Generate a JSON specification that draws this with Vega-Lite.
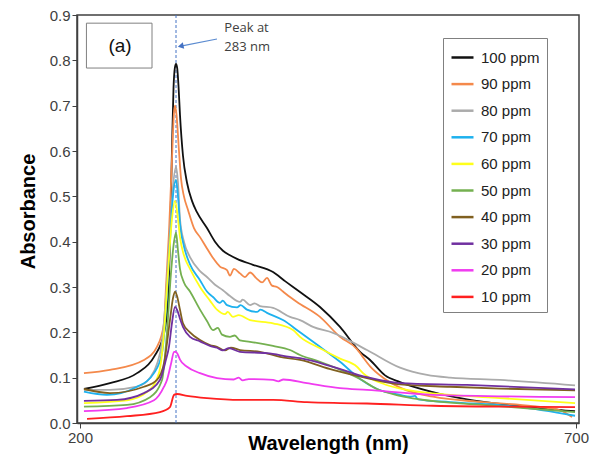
{
  "$schema": "https://vega.github.io/schema/vega-lite/v6.json",
  "width": 502,
  "height": 408,
  "autosize": "none",
  "padding": {"left": 77, "top": 15, "right": 11, "bottom": 39},
  "background": "white",
  "config": {
    "font": "Liberation Sans",
    "view": {"stroke": "#404040", "strokeWidth": 1.5},
    "axis": {"grid": false, "domainColor": "#404040", "domainWidth": 1.5, "tickColor": "#404040", "tickSize": 5, "labelColor": "#404040", "labelFontSize": 15, "titleFontSize": 20, "titleFontWeight": "bold", "titleColor": "#000000"}
  },
  "datasets": {
    "spectra": [
      {"series": "100 ppm", "wavelength": 204.0, "absorbance": 0.075},
      {"series": "100 ppm", "wavelength": 230.2, "absorbance": 0.088},
      {"series": "100 ppm", "wavelength": 257.5, "absorbance": 0.110},
      {"series": "100 ppm", "wavelength": 274.6, "absorbance": 0.146},
      {"series": "100 ppm", "wavelength": 284.7, "absorbance": 0.198},
      {"series": "100 ppm", "wavelength": 288.7, "absorbance": 0.27},
      {"series": "100 ppm", "wavelength": 290.7, "absorbance": 0.40},
      {"series": "100 ppm", "wavelength": 292.7, "absorbance": 0.60},
      {"series": "100 ppm", "wavelength": 294.3, "absorbance": 0.74},
      {"series": "100 ppm", "wavelength": 295.6, "absorbance": 0.783},
      {"series": "100 ppm", "wavelength": 296.8, "absorbance": 0.792},
      {"series": "100 ppm", "wavelength": 298.0, "absorbance": 0.783},
      {"series": "100 ppm", "wavelength": 299.4, "absorbance": 0.74},
      {"series": "100 ppm", "wavelength": 300.8, "absorbance": 0.68},
      {"series": "100 ppm", "wavelength": 303.8, "absorbance": 0.59},
      {"series": "100 ppm", "wavelength": 307.9, "absorbance": 0.53},
      {"series": "100 ppm", "wavelength": 312.9, "absorbance": 0.49},
      {"series": "100 ppm", "wavelength": 317.9, "absorbance": 0.465},
      {"series": "100 ppm", "wavelength": 328.0, "absorbance": 0.43},
      {"series": "100 ppm", "wavelength": 336.1, "absorbance": 0.40},
      {"series": "100 ppm", "wavelength": 344.1, "absorbance": 0.38},
      {"series": "100 ppm", "wavelength": 351.2, "absorbance": 0.37},
      {"series": "100 ppm", "wavelength": 358.3, "absorbance": 0.362},
      {"series": "100 ppm", "wavelength": 374.4, "absorbance": 0.349},
      {"series": "100 ppm", "wavelength": 394.6, "absorbance": 0.333},
      {"series": "100 ppm", "wavelength": 406.7, "absorbance": 0.313},
      {"series": "100 ppm", "wavelength": 421.8, "absorbance": 0.289},
      {"series": "100 ppm", "wavelength": 441.9, "absorbance": 0.256},
      {"series": "100 ppm", "wavelength": 462.1, "absorbance": 0.212},
      {"series": "100 ppm", "wavelength": 482.3, "absorbance": 0.157},
      {"series": "100 ppm", "wavelength": 492.4, "absorbance": 0.139},
      {"series": "100 ppm", "wavelength": 507.5, "absorbance": 0.105},
      {"series": "100 ppm", "wavelength": 522.6, "absorbance": 0.09},
      {"series": "100 ppm", "wavelength": 555.8, "absorbance": 0.068},
      {"series": "100 ppm", "wavelength": 590.1, "absorbance": 0.052},
      {"series": "100 ppm", "wavelength": 640.5, "absorbance": 0.038},
      {"series": "100 ppm", "wavelength": 699.0, "absorbance": 0.026},

      {"series": "90 ppm", "wavelength": 204.0, "absorbance": 0.110},
      {"series": "90 ppm", "wavelength": 230.2, "absorbance": 0.117},
      {"series": "90 ppm", "wavelength": 264.5, "absorbance": 0.139},
      {"series": "90 ppm", "wavelength": 277.6, "absorbance": 0.168},
      {"series": "90 ppm", "wavelength": 284.7, "absorbance": 0.22},
      {"series": "90 ppm", "wavelength": 286.7, "absorbance": 0.30},
      {"series": "90 ppm", "wavelength": 289.7, "absorbance": 0.42},
      {"series": "90 ppm", "wavelength": 292.7, "absorbance": 0.58},
      {"series": "90 ppm", "wavelength": 294.6, "absorbance": 0.68},
      {"series": "90 ppm", "wavelength": 295.8, "absorbance": 0.70},
      {"series": "90 ppm", "wavelength": 297.3, "absorbance": 0.68},
      {"series": "90 ppm", "wavelength": 299.8, "absorbance": 0.60},
      {"series": "90 ppm", "wavelength": 301.8, "absorbance": 0.54},
      {"series": "90 ppm", "wavelength": 304.8, "absorbance": 0.50},
      {"series": "90 ppm", "wavelength": 308.9, "absorbance": 0.47},
      {"series": "90 ppm", "wavelength": 314.9, "absorbance": 0.43},
      {"series": "90 ppm", "wavelength": 321.0, "absorbance": 0.41},
      {"series": "90 ppm", "wavelength": 328.0, "absorbance": 0.385},
      {"series": "90 ppm", "wavelength": 334.1, "absorbance": 0.364},
      {"series": "90 ppm", "wavelength": 341.1, "absorbance": 0.345},
      {"series": "90 ppm", "wavelength": 348.2, "absorbance": 0.337},
      {"series": "90 ppm", "wavelength": 351.2, "absorbance": 0.325},
      {"series": "90 ppm", "wavelength": 355.2, "absorbance": 0.34},
      {"series": "90 ppm", "wavelength": 361.3, "absorbance": 0.33},
      {"series": "90 ppm", "wavelength": 366.3, "absorbance": 0.322},
      {"series": "90 ppm", "wavelength": 371.4, "absorbance": 0.332},
      {"series": "90 ppm", "wavelength": 378.4, "absorbance": 0.318},
      {"series": "90 ppm", "wavelength": 383.5, "absorbance": 0.31},
      {"series": "90 ppm", "wavelength": 388.5, "absorbance": 0.32},
      {"series": "90 ppm", "wavelength": 393.5, "absorbance": 0.303},
      {"series": "90 ppm", "wavelength": 398.6, "absorbance": 0.30},
      {"series": "90 ppm", "wavelength": 404.6, "absorbance": 0.29},
      {"series": "90 ppm", "wavelength": 411.7, "absorbance": 0.278},
      {"series": "90 ppm", "wavelength": 418.7, "absorbance": 0.267},
      {"series": "90 ppm", "wavelength": 441.9, "absorbance": 0.234},
      {"series": "90 ppm", "wavelength": 462.1, "absorbance": 0.19},
      {"series": "90 ppm", "wavelength": 479.2, "absorbance": 0.163},
      {"series": "90 ppm", "wavelength": 484.3, "absorbance": 0.148},
      {"series": "90 ppm", "wavelength": 492.4, "absorbance": 0.125},
      {"series": "90 ppm", "wavelength": 505.5, "absorbance": 0.1},
      {"series": "90 ppm", "wavelength": 522.6, "absorbance": 0.078},
      {"series": "90 ppm", "wavelength": 555.8, "absorbance": 0.058},
      {"series": "90 ppm", "wavelength": 606.3, "absorbance": 0.046},
      {"series": "90 ppm", "wavelength": 656.6, "absorbance": 0.037},
      {"series": "90 ppm", "wavelength": 683.9, "absorbance": 0.028},
      {"series": "90 ppm", "wavelength": 696.0, "absorbance": 0.013},

      {"series": "80 ppm", "wavelength": 204.0, "absorbance": 0.073},
      {"series": "80 ppm", "wavelength": 230.2, "absorbance": 0.073},
      {"series": "80 ppm", "wavelength": 257.5, "absorbance": 0.08},
      {"series": "80 ppm", "wavelength": 270.6, "absorbance": 0.10},
      {"series": "80 ppm", "wavelength": 277.6, "absorbance": 0.13},
      {"series": "80 ppm", "wavelength": 282.7, "absorbance": 0.18},
      {"series": "80 ppm", "wavelength": 286.7, "absorbance": 0.28},
      {"series": "80 ppm", "wavelength": 290.7, "absorbance": 0.42},
      {"series": "80 ppm", "wavelength": 293.7, "absorbance": 0.52},
      {"series": "80 ppm", "wavelength": 296.8, "absorbance": 0.565},
      {"series": "80 ppm", "wavelength": 298.8, "absorbance": 0.53},
      {"series": "80 ppm", "wavelength": 300.8, "absorbance": 0.45},
      {"series": "80 ppm", "wavelength": 304.8, "absorbance": 0.40},
      {"series": "80 ppm", "wavelength": 310.9, "absorbance": 0.366},
      {"series": "80 ppm", "wavelength": 321.0, "absorbance": 0.335},
      {"series": "80 ppm", "wavelength": 328.0, "absorbance": 0.322},
      {"series": "80 ppm", "wavelength": 336.1, "absorbance": 0.305},
      {"series": "80 ppm", "wavelength": 344.1, "absorbance": 0.293},
      {"series": "80 ppm", "wavelength": 351.2, "absorbance": 0.28},
      {"series": "80 ppm", "wavelength": 361.3, "absorbance": 0.267},
      {"series": "80 ppm", "wavelength": 364.0, "absorbance": 0.272},
      {"series": "80 ppm", "wavelength": 371.4, "absorbance": 0.26},
      {"series": "80 ppm", "wavelength": 376.0, "absorbance": 0.264},
      {"series": "80 ppm", "wavelength": 381.5, "absorbance": 0.258},
      {"series": "80 ppm", "wavelength": 394.6, "absorbance": 0.254},
      {"series": "80 ppm", "wavelength": 411.7, "absorbance": 0.234},
      {"series": "80 ppm", "wavelength": 421.8, "absorbance": 0.227},
      {"series": "80 ppm", "wavelength": 434.9, "absorbance": 0.212},
      {"series": "80 ppm", "wavelength": 455.0, "absorbance": 0.199},
      {"series": "80 ppm", "wavelength": 489.3, "absorbance": 0.161},
      {"series": "80 ppm", "wavelength": 522.6, "absorbance": 0.122},
      {"series": "80 ppm", "wavelength": 549.8, "absorbance": 0.106},
      {"series": "80 ppm", "wavelength": 573.0, "absorbance": 0.1},
      {"series": "80 ppm", "wavelength": 623.4, "absorbance": 0.095},
      {"series": "80 ppm", "wavelength": 699.0, "absorbance": 0.083},

      {"series": "70 ppm", "wavelength": 204.0, "absorbance": 0.069},
      {"series": "70 ppm", "wavelength": 227.2, "absorbance": 0.062},
      {"series": "70 ppm", "wavelength": 257.5, "absorbance": 0.08},
      {"series": "70 ppm", "wavelength": 274.6, "absorbance": 0.11},
      {"series": "70 ppm", "wavelength": 282.7, "absorbance": 0.154},
      {"series": "70 ppm", "wavelength": 286.7, "absorbance": 0.25},
      {"series": "70 ppm", "wavelength": 290.7, "absorbance": 0.40},
      {"series": "70 ppm", "wavelength": 293.7, "absorbance": 0.50},
      {"series": "70 ppm", "wavelength": 296.8, "absorbance": 0.536},
      {"series": "70 ppm", "wavelength": 298.8, "absorbance": 0.50},
      {"series": "70 ppm", "wavelength": 300.8, "absorbance": 0.44},
      {"series": "70 ppm", "wavelength": 304.8, "absorbance": 0.39},
      {"series": "70 ppm", "wavelength": 310.9, "absorbance": 0.35},
      {"series": "70 ppm", "wavelength": 321.0, "absorbance": 0.315},
      {"series": "70 ppm", "wavelength": 328.0, "absorbance": 0.29},
      {"series": "70 ppm", "wavelength": 334.1, "absorbance": 0.278},
      {"series": "70 ppm", "wavelength": 341.1, "absorbance": 0.265},
      {"series": "70 ppm", "wavelength": 344.0, "absorbance": 0.27},
      {"series": "70 ppm", "wavelength": 348.2, "absorbance": 0.26},
      {"series": "70 ppm", "wavelength": 358.3, "absorbance": 0.255},
      {"series": "70 ppm", "wavelength": 362.0, "absorbance": 0.26},
      {"series": "70 ppm", "wavelength": 368.3, "absorbance": 0.25},
      {"series": "70 ppm", "wavelength": 378.4, "absorbance": 0.245},
      {"series": "70 ppm", "wavelength": 382.0, "absorbance": 0.25},
      {"series": "70 ppm", "wavelength": 388.5, "absorbance": 0.243},
      {"series": "70 ppm", "wavelength": 404.6, "absorbance": 0.227},
      {"series": "70 ppm", "wavelength": 421.8, "absorbance": 0.2},
      {"series": "70 ppm", "wavelength": 441.9, "absorbance": 0.168},
      {"series": "70 ppm", "wavelength": 462.1, "absorbance": 0.135},
      {"series": "70 ppm", "wavelength": 482.3, "absorbance": 0.097},
      {"series": "70 ppm", "wavelength": 499.4, "absorbance": 0.075},
      {"series": "70 ppm", "wavelength": 522.6, "absorbance": 0.062},
      {"series": "70 ppm", "wavelength": 532.7, "absorbance": 0.058},
      {"series": "70 ppm", "wavelength": 537.7, "absorbance": 0.06},
      {"series": "70 ppm", "wavelength": 540.7, "absorbance": 0.052},
      {"series": "70 ppm", "wavelength": 573.0, "absorbance": 0.046},
      {"series": "70 ppm", "wavelength": 640.5, "absorbance": 0.036},
      {"series": "70 ppm", "wavelength": 699.0, "absorbance": 0.016},

      {"series": "60 ppm", "wavelength": 204.0, "absorbance": 0.044},
      {"series": "60 ppm", "wavelength": 247.4, "absorbance": 0.05},
      {"series": "60 ppm", "wavelength": 267.5, "absorbance": 0.068},
      {"series": "60 ppm", "wavelength": 279.6, "absorbance": 0.11},
      {"series": "60 ppm", "wavelength": 284.7, "absorbance": 0.20},
      {"series": "60 ppm", "wavelength": 288.7, "absorbance": 0.33},
      {"series": "60 ppm", "wavelength": 292.7, "absorbance": 0.45},
      {"series": "60 ppm", "wavelength": 295.8, "absorbance": 0.49},
      {"series": "60 ppm", "wavelength": 298.8, "absorbance": 0.45},
      {"series": "60 ppm", "wavelength": 300.8, "absorbance": 0.41},
      {"series": "60 ppm", "wavelength": 304.8, "absorbance": 0.37},
      {"series": "60 ppm", "wavelength": 310.9, "absorbance": 0.34},
      {"series": "60 ppm", "wavelength": 321.0, "absorbance": 0.30},
      {"series": "60 ppm", "wavelength": 331.0, "absorbance": 0.27},
      {"series": "60 ppm", "wavelength": 338.1, "absorbance": 0.25},
      {"series": "60 ppm", "wavelength": 346.1, "absorbance": 0.24},
      {"series": "60 ppm", "wavelength": 349.0, "absorbance": 0.245},
      {"series": "60 ppm", "wavelength": 354.2, "absorbance": 0.234},
      {"series": "60 ppm", "wavelength": 360.0, "absorbance": 0.238},
      {"series": "60 ppm", "wavelength": 371.4, "absorbance": 0.227},
      {"series": "60 ppm", "wavelength": 394.6, "absorbance": 0.22},
      {"series": "60 ppm", "wavelength": 414.7, "absorbance": 0.205},
      {"series": "60 ppm", "wavelength": 421.8, "absorbance": 0.19},
      {"series": "60 ppm", "wavelength": 441.9, "absorbance": 0.165},
      {"series": "60 ppm", "wavelength": 462.1, "absorbance": 0.142},
      {"series": "60 ppm", "wavelength": 479.2, "absorbance": 0.124},
      {"series": "60 ppm", "wavelength": 485.3, "absorbance": 0.11},
      {"series": "60 ppm", "wavelength": 507.5, "absorbance": 0.085},
      {"series": "60 ppm", "wavelength": 532.7, "absorbance": 0.072},
      {"series": "60 ppm", "wavelength": 573.0, "absorbance": 0.062},
      {"series": "60 ppm", "wavelength": 623.4, "absorbance": 0.055},
      {"series": "60 ppm", "wavelength": 699.0, "absorbance": 0.044},

      {"series": "50 ppm", "wavelength": 204.0, "absorbance": 0.036},
      {"series": "50 ppm", "wavelength": 247.4, "absorbance": 0.04},
      {"series": "50 ppm", "wavelength": 270.6, "absorbance": 0.057},
      {"series": "50 ppm", "wavelength": 282.7, "absorbance": 0.095},
      {"series": "50 ppm", "wavelength": 287.7, "absorbance": 0.20},
      {"series": "50 ppm", "wavelength": 291.7, "absorbance": 0.33},
      {"series": "50 ppm", "wavelength": 294.8, "absorbance": 0.40},
      {"series": "50 ppm", "wavelength": 296.8, "absorbance": 0.42},
      {"series": "50 ppm", "wavelength": 298.8, "absorbance": 0.38},
      {"series": "50 ppm", "wavelength": 300.8, "absorbance": 0.34},
      {"series": "50 ppm", "wavelength": 304.8, "absorbance": 0.31},
      {"series": "50 ppm", "wavelength": 310.9, "absorbance": 0.29},
      {"series": "50 ppm", "wavelength": 321.0, "absorbance": 0.25},
      {"series": "50 ppm", "wavelength": 328.0, "absorbance": 0.225},
      {"series": "50 ppm", "wavelength": 334.1, "absorbance": 0.205},
      {"series": "50 ppm", "wavelength": 339.0, "absorbance": 0.21},
      {"series": "50 ppm", "wavelength": 343.1, "absorbance": 0.195},
      {"series": "50 ppm", "wavelength": 351.2, "absorbance": 0.19},
      {"series": "50 ppm", "wavelength": 356.0, "absorbance": 0.193},
      {"series": "50 ppm", "wavelength": 361.3, "absorbance": 0.182},
      {"series": "50 ppm", "wavelength": 371.4, "absorbance": 0.179},
      {"series": "50 ppm", "wavelength": 394.6, "absorbance": 0.17},
      {"series": "50 ppm", "wavelength": 411.7, "absorbance": 0.161},
      {"series": "50 ppm", "wavelength": 421.8, "absorbance": 0.15},
      {"series": "50 ppm", "wavelength": 441.9, "absorbance": 0.135},
      {"series": "50 ppm", "wavelength": 465.1, "absorbance": 0.115},
      {"series": "50 ppm", "wavelength": 482.3, "absorbance": 0.097},
      {"series": "50 ppm", "wavelength": 499.4, "absorbance": 0.075},
      {"series": "50 ppm", "wavelength": 522.6, "absorbance": 0.06},
      {"series": "50 ppm", "wavelength": 542.7, "absorbance": 0.052},
      {"series": "50 ppm", "wavelength": 606.3, "absorbance": 0.04},
      {"series": "50 ppm", "wavelength": 653.6, "absorbance": 0.032},
      {"series": "50 ppm", "wavelength": 699.0, "absorbance": 0.024},

      {"series": "40 ppm", "wavelength": 204.0, "absorbance": 0.075},
      {"series": "40 ppm", "wavelength": 230.2, "absorbance": 0.066},
      {"series": "40 ppm", "wavelength": 264.5, "absorbance": 0.08},
      {"series": "40 ppm", "wavelength": 277.6, "absorbance": 0.095},
      {"series": "40 ppm", "wavelength": 284.7, "absorbance": 0.132},
      {"series": "40 ppm", "wavelength": 290.7, "absorbance": 0.227},
      {"series": "40 ppm", "wavelength": 293.7, "absorbance": 0.275},
      {"series": "40 ppm", "wavelength": 295.8, "absorbance": 0.29},
      {"series": "40 ppm", "wavelength": 297.8, "absorbance": 0.28},
      {"series": "40 ppm", "wavelength": 300.8, "absorbance": 0.25},
      {"series": "40 ppm", "wavelength": 303.8, "absorbance": 0.22},
      {"series": "40 ppm", "wavelength": 310.9, "absorbance": 0.20},
      {"series": "40 ppm", "wavelength": 321.0, "absorbance": 0.183},
      {"series": "40 ppm", "wavelength": 331.0, "absorbance": 0.172},
      {"series": "40 ppm", "wavelength": 338.1, "absorbance": 0.168},
      {"series": "40 ppm", "wavelength": 346.1, "absorbance": 0.16},
      {"series": "40 ppm", "wavelength": 352.0, "absorbance": 0.166},
      {"series": "40 ppm", "wavelength": 361.3, "absorbance": 0.161},
      {"series": "40 ppm", "wavelength": 381.5, "absorbance": 0.157},
      {"series": "40 ppm", "wavelength": 401.6, "absorbance": 0.146},
      {"series": "40 ppm", "wavelength": 421.8, "absorbance": 0.139},
      {"series": "40 ppm", "wavelength": 455.0, "absorbance": 0.117},
      {"series": "40 ppm", "wavelength": 489.3, "absorbance": 0.099},
      {"series": "40 ppm", "wavelength": 522.6, "absorbance": 0.085},
      {"series": "40 ppm", "wavelength": 573.0, "absorbance": 0.08},
      {"series": "40 ppm", "wavelength": 623.4, "absorbance": 0.076},
      {"series": "40 ppm", "wavelength": 699.0, "absorbance": 0.072},

      {"series": "30 ppm", "wavelength": 204.0, "absorbance": 0.049},
      {"series": "30 ppm", "wavelength": 237.3, "absorbance": 0.051},
      {"series": "30 ppm", "wavelength": 264.5, "absorbance": 0.066},
      {"series": "30 ppm", "wavelength": 280.6, "absorbance": 0.095},
      {"series": "30 ppm", "wavelength": 286.7, "absorbance": 0.14},
      {"series": "30 ppm", "wavelength": 289.7, "absorbance": 0.168},
      {"series": "30 ppm", "wavelength": 292.7, "absorbance": 0.22},
      {"series": "30 ppm", "wavelength": 295.8, "absorbance": 0.256},
      {"series": "30 ppm", "wavelength": 297.8, "absorbance": 0.25},
      {"series": "30 ppm", "wavelength": 300.8, "absorbance": 0.23},
      {"series": "30 ppm", "wavelength": 303.8, "absorbance": 0.212},
      {"series": "30 ppm", "wavelength": 310.9, "absorbance": 0.19},
      {"series": "30 ppm", "wavelength": 321.0, "absorbance": 0.18},
      {"series": "30 ppm", "wavelength": 331.0, "absorbance": 0.17},
      {"series": "30 ppm", "wavelength": 338.1, "absorbance": 0.166},
      {"series": "30 ppm", "wavelength": 344.0, "absorbance": 0.16},
      {"series": "30 ppm", "wavelength": 350.0, "absorbance": 0.165},
      {"series": "30 ppm", "wavelength": 361.3, "absorbance": 0.157},
      {"series": "30 ppm", "wavelength": 388.5, "absorbance": 0.154},
      {"series": "30 ppm", "wavelength": 411.7, "absorbance": 0.146},
      {"series": "30 ppm", "wavelength": 421.8, "absorbance": 0.143},
      {"series": "30 ppm", "wavelength": 455.0, "absorbance": 0.124},
      {"series": "30 ppm", "wavelength": 489.3, "absorbance": 0.101},
      {"series": "30 ppm", "wavelength": 522.6, "absorbance": 0.088},
      {"series": "30 ppm", "wavelength": 590.1, "absorbance": 0.084},
      {"series": "30 ppm", "wavelength": 699.0, "absorbance": 0.074},

      {"series": "20 ppm", "wavelength": 204.0, "absorbance": 0.026},
      {"series": "20 ppm", "wavelength": 247.4, "absorbance": 0.033},
      {"series": "20 ppm", "wavelength": 274.6, "absorbance": 0.05},
      {"series": "20 ppm", "wavelength": 284.7, "absorbance": 0.08},
      {"series": "20 ppm", "wavelength": 287.7, "absorbance": 0.095},
      {"series": "20 ppm", "wavelength": 291.7, "absorbance": 0.13},
      {"series": "20 ppm", "wavelength": 294.8, "absorbance": 0.157},
      {"series": "20 ppm", "wavelength": 296.8, "absorbance": 0.157},
      {"series": "20 ppm", "wavelength": 298.8, "absorbance": 0.15},
      {"series": "20 ppm", "wavelength": 300.8, "absorbance": 0.14},
      {"series": "20 ppm", "wavelength": 307.9, "absorbance": 0.124},
      {"series": "20 ppm", "wavelength": 321.0, "absorbance": 0.11},
      {"series": "20 ppm", "wavelength": 338.1, "absorbance": 0.099},
      {"series": "20 ppm", "wavelength": 355.0, "absorbance": 0.096},
      {"series": "20 ppm", "wavelength": 360.0, "absorbance": 0.1},
      {"series": "20 ppm", "wavelength": 364.0, "absorbance": 0.094},
      {"series": "20 ppm", "wavelength": 370.0, "absorbance": 0.097},
      {"series": "20 ppm", "wavelength": 394.6, "absorbance": 0.095},
      {"series": "20 ppm", "wavelength": 400.0, "absorbance": 0.092},
      {"series": "20 ppm", "wavelength": 405.0, "absorbance": 0.096},
      {"series": "20 ppm", "wavelength": 428.8, "absorbance": 0.088},
      {"series": "20 ppm", "wavelength": 462.1, "absorbance": 0.077},
      {"series": "20 ppm", "wavelength": 489.3, "absorbance": 0.073},
      {"series": "20 ppm", "wavelength": 555.8, "absorbance": 0.062},
      {"series": "20 ppm", "wavelength": 699.0, "absorbance": 0.057},

      {"series": "10 ppm", "wavelength": 207.1, "absorbance": 0.009},
      {"series": "10 ppm", "wavelength": 247.4, "absorbance": 0.015},
      {"series": "10 ppm", "wavelength": 280.6, "absorbance": 0.024},
      {"series": "10 ppm", "wavelength": 290.7, "absorbance": 0.035},
      {"series": "10 ppm", "wavelength": 294.8, "absorbance": 0.062},
      {"series": "10 ppm", "wavelength": 297.8, "absorbance": 0.064},
      {"series": "10 ppm", "wavelength": 307.9, "absorbance": 0.06},
      {"series": "10 ppm", "wavelength": 328.0, "absorbance": 0.055},
      {"series": "10 ppm", "wavelength": 361.3, "absorbance": 0.051},
      {"series": "10 ppm", "wavelength": 394.6, "absorbance": 0.051},
      {"series": "10 ppm", "wavelength": 428.8, "absorbance": 0.046},
      {"series": "10 ppm", "wavelength": 462.1, "absorbance": 0.044},
      {"series": "10 ppm", "wavelength": 489.3, "absorbance": 0.043},
      {"series": "10 ppm", "wavelength": 555.8, "absorbance": 0.038},
      {"series": "10 ppm", "wavelength": 699.0, "absorbance": 0.035}
    ]
  },
  "layer": [
    {
      "data": {"values": [{"wavelength": 296.8}]},
      "mark": {"type": "rule", "color": "#4472C4", "strokeWidth": 1, "strokeDash": [3, 2]},
      "encoding": {"x": {"field": "wavelength", "type": "quantitative"}}
    },
    {
      "data": {"name": "spectra"},
      "mark": {"type": "line", "strokeWidth": 1.8, "interpolate": "monotone"},
      "encoding": {
        "x": {"field": "wavelength", "type": "quantitative", "scale": {"domain": [197, 703], "nice": false, "zero": false},
              "axis": {"values": [200, 700], "title": "Wavelength (nm)", "titleY": 20, "titleBaseline": "middle", "labelPadding": 2}},
        "y": {"field": "absorbance", "type": "quantitative", "scale": {"domain": [0, 0.9], "nice": false},
              "axis": {"values": [0, 0.1, 0.2, 0.3, 0.4, 0.5, 0.6, 0.7, 0.8, 0.9], "format": ".1f", "title": "Absorbance", "titleX": -49, "titleY": 196, "titleAlign": "center", "titleBaseline": "middle", "titleAngle": 270}},
        "color": {"field": "series", "type": "nominal",
          "scale": {"domain": ["100 ppm", "90 ppm", "80 ppm", "70 ppm", "60 ppm", "50 ppm", "40 ppm", "30 ppm", "20 ppm", "10 ppm"],
                    "range": ["#111111", "#F4894B", "#ABABAB", "#1EB1EE", "#FFFF1A", "#74B050", "#806020", "#7030A0", "#F03CF0", "#FF2020"]},
          "legend": {"title": null, "orient": "none", "legendX": 366, "legendY": 23, "symbolType": "stroke", "symbolSize": 484, "symbolStrokeWidth": 2.5,
                     "labelFontSize": 15, "labelColor": "#222222", "labelOffset": 6, "rowPadding": 5.6, "padding": 7, "strokeColor": "#808080", "fillColor": "white",
                     "labelExpr": "datum.label + '\u00a0\u00a0'"}},
        "detail": {"field": "series"}
      }
    },
    {
      "data": {"values": [{"x1": 206.5, "x2": 272.6, "y1": 0.882, "y2": 0.783}]},
      "mark": {"type": "rect", "fill": "white", "stroke": "#808080", "strokeWidth": 1},
      "encoding": {
        "x": {"field": "x1", "type": "quantitative"}, "x2": {"field": "x2"},
        "y": {"field": "y1", "type": "quantitative"}, "y2": {"field": "y2"}
      }
    },
    {
      "data": {"values": [{"x": 240.4, "y": 0.832, "label": "(a)"}]},
      "mark": {"type": "text", "fontSize": 19, "color": "#111111", "align": "center", "baseline": "middle"},
      "encoding": {"x": {"field": "x", "type": "quantitative"}, "y": {"field": "y", "type": "quantitative"}, "text": {"field": "label"}}
    },
    {
      "data": {"values": [{"x": 345.5, "y": 0.871, "label": "Peak at"}, {"x": 345.5, "y": 0.829, "label": "283 nm"}]},
      "mark": {"type": "text", "fontSize": 13, "font": "Open Sans", "color": "#404040", "align": "left", "baseline": "middle"},
      "encoding": {"x": {"field": "x", "type": "quantitative"}, "y": {"field": "y", "type": "quantitative"}, "text": {"field": "label"}}
    },
    {
      "data": {"values": [{"x": 338.1, "y": 0.847, "o": 0}, {"x": 303.0, "y": 0.832, "o": 1}]},
      "mark": {"type": "line", "color": "#5B8BD0", "strokeWidth": 1.2},
      "encoding": {"x": {"field": "x", "type": "quantitative"}, "y": {"field": "y", "type": "quantitative"}, "order": {"field": "o"}}
    },
    {
      "data": {"values": [{"x": 301.5, "y": 0.8315}]},
      "mark": {"type": "point", "shape": "triangle-left", "angle": -11.6, "size": 45, "filled": true, "color": "#4472C4", "opacity": 1},
      "encoding": {"x": {"field": "x", "type": "quantitative"}, "y": {"field": "y", "type": "quantitative"}}
    }
  ]
}
